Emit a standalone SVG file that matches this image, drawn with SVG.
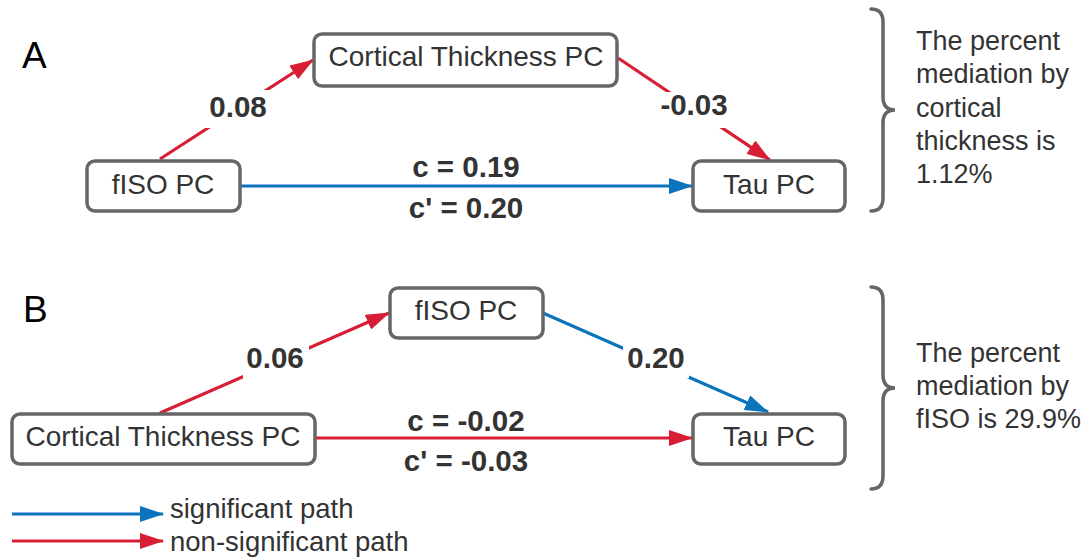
<svg xmlns="http://www.w3.org/2000/svg" width="1091" height="557" viewBox="0 0 1091 557">
<style>
.box{fill:#fff;stroke:#666;stroke-width:3.5}
.nt{font-family:"Liberation Sans",Arial,sans-serif;font-size:28px;fill:#333;text-anchor:middle}
.lb{font-family:"Liberation Sans",Arial,sans-serif;font-size:29.5px;font-weight:bold;fill:#333;text-anchor:middle}
.side{font-family:"Liberation Sans",Arial,sans-serif;font-size:27px;fill:#333}
.leg{font-family:"Liberation Sans",Arial,sans-serif;font-size:27.5px;fill:#333}
.panel{font-family:"Liberation Sans",Arial,sans-serif;font-size:37px;fill:#000}
.red{stroke:#d81e34;stroke-width:3.2;fill:none;marker-end:url(#ar)}
.blue{stroke:#0b74bc;stroke-width:3.2;fill:none;marker-end:url(#ab)}
.brace{stroke:#666;stroke-width:3.5;fill:none;stroke-linecap:round}
.bg{fill:#fff}
</style>
<defs>
<marker id="ar" viewBox="0 0 24 16" refX="23" refY="8" markerWidth="24" markerHeight="16" markerUnits="userSpaceOnUse" orient="auto"><path d="M0,0 L24,8 L0,16 z" fill="#d81e34"/></marker>
<marker id="ab" viewBox="0 0 24 16" refX="23" refY="8" markerWidth="24" markerHeight="16" markerUnits="userSpaceOnUse" orient="auto"><path d="M0,0 L24,8 L0,16 z" fill="#0b74bc"/></marker>
</defs>
<rect width="1091" height="557" fill="#fff"/>
<text class="panel" x="22" y="68">A</text>
<text class="panel" x="23" y="322">B</text>
<g id="connectors">
<line class="red" x1="160" y1="159" x2="313" y2="60"/>
<line class="red" x1="618" y1="58" x2="770" y2="160"/>
<line class="blue" x1="241" y1="186" x2="692" y2="186"/>
<line class="red" x1="160" y1="413" x2="389" y2="313"/>
<line class="blue" x1="543" y1="313" x2="768" y2="412"/>
<line class="red" x1="316" y1="438" x2="692" y2="438"/>
<rect class="bg" x="205" y="90" width="66" height="38"/>
<text class="lb" x="238" y="117">0.08</text>
<rect class="bg" x="656" y="92" width="76" height="36"/>
<text class="lb" x="694" y="115">-0.03</text>
<text class="lb" x="466" y="177">c = 0.19</text>
<text class="lb" x="466" y="218">c' = 0.20</text>
<rect class="bg" x="243" y="340" width="66" height="38"/>
<text class="lb" x="275" y="368">0.06</text>
<rect class="bg" x="623" y="340" width="66" height="38"/>
<text class="lb" x="656" y="368">0.20</text>
<text class="lb" x="466" y="431">c = -0.02</text>
<text class="lb" x="466" y="471">c' = -0.03</text>
</g>
<g id="a-cortical"><rect class="box" x="314" y="34" width="303" height="52" rx="8"/><text class="nt" x="466" y="66">Cortical Thickness PC</text></g>
<g id="a-fiso"><rect class="box" x="87" y="161" width="153" height="50" rx="8"/><text class="nt" x="163" y="194">fISO PC</text></g>
<g id="a-tau"><rect class="box" x="693" y="161" width="152" height="50" rx="8"/><text class="nt" x="769" y="194">Tau PC</text></g>
<g id="b-fiso"><rect class="box" x="390" y="288" width="153" height="50" rx="8"/><text class="nt" x="466" y="320">fISO PC</text></g>
<g id="b-cortical"><rect class="box" x="12" y="414" width="303" height="50" rx="8"/><text class="nt" x="163" y="446">Cortical Thickness PC</text></g>
<g id="b-tau"><rect class="box" x="693" y="414" width="152" height="50" rx="8"/><text class="nt" x="769" y="446">Tau PC</text></g>
<g id="brace-a">
<path class="brace" d="M871,9 Q883,9 883,22 L883,97 Q883,110 895,110 Q883,110 883,123 L883,198 Q883,211 871,211"/>
<text class="side" x="916" y="50">The percent</text>
<text class="side" x="916" y="83">mediation by</text>
<text class="side" x="916" y="117">cortical</text>
<text class="side" x="916" y="150">thickness is</text>
<text class="side" x="916" y="183">1.12%</text>
</g>
<g id="brace-b">
<path class="brace" d="M871,287 Q883,287 883,300 L883,375 Q883,388 895,388 Q883,388 883,401 L883,476 Q883,489 871,489"/>
<text class="side" x="916" y="362">The percent</text>
<text class="side" x="916" y="395">mediation by</text>
<text class="side" x="916" y="428">fISO is 29.9%</text>
</g>
<g id="legend">
<line class="blue" x1="12" y1="514" x2="163" y2="514"/>
<line class="red" x1="12" y1="541" x2="163" y2="541"/>
<text class="leg" x="170" y="518">significant path</text>
<text class="leg" x="170" y="551">non-significant path</text>
</g>
</svg>
